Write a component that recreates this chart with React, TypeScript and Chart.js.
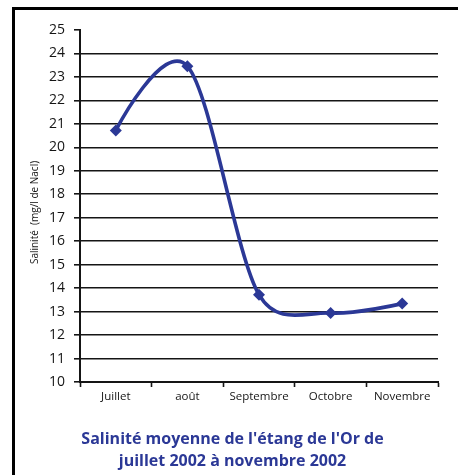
import React, { useEffect, useRef } from "react";
import { Chart, registerables } from "chart.js";

Chart.register(...registerables);

const months = ["Juillet", "août", "Septembre", "Octobre", "Novembre"];
const salinity = [20.72, 23.46, 13.72, 12.94, 13.34];
const yMin = 10;
const yMax = 25;
const yStep = 1;
const yTitle = "Salinité  (mg/l de Nacl)     ";
const chartTitle = ["Salinité moyenne de l'étang de l'Or de", "juillet 2002 à novembre 2002"];

const BLUE = "#2b3896";
const INK = "#151515";
const FONT = "'Open Sans', 'DejaVu Sans', sans-serif";

// Spreadsheet-style smoothing: Catmull-Rom tangents (1/6), limited by half segment length,
// control point collapsed onto the end points.
const smoothPlugin = {
  id: "smoothSpline",
  beforeDatasetDraw(chart: any, args: any) {
    const meta = args.meta;
    const line = meta.dataset;
    if (!line) return;
    line.updateControlPoints(chart.chartArea, meta.indexAxis);
    const pts = meta.data;
    const n = pts.length;
    const dist = (a: any, b: any) => Math.hypot(b.x - a.x, b.y - a.y);
    for (let i = 0; i < n - 1; i++) {
      const p1 = pts[i];
      const p2 = pts[i + 1];
      if (i === 0) {
        p1.cp2x = p1.x;
        p1.cp2y = p1.y;
      } else {
        const p0 = pts[i - 1];
        const d12 = dist(p1, p2);
        const d02 = dist(p0, p2);
        let f1 = 1 / 6;
        if (d02 > 0 && d12 / (2 * d02) < f1) f1 = d12 / (2 * d02);
        p1.cp2x = p1.x + f1 * (p2.x - p0.x);
        p1.cp2y = p1.y + f1 * (p2.y - p0.y);
      }
      if (i + 2 > n - 1) {
        p2.cp1x = p2.x;
        p2.cp1y = p2.y;
      } else {
        const p3 = pts[i + 2];
        const d12 = dist(p1, p2);
        const d13 = dist(p1, p3);
        let f2 = 1 / 6;
        if (d13 > 0 && d12 / (2 * d13) < f2) f2 = d12 / (2 * d13);
        p2.cp1x = p2.x - f2 * (p3.x - p1.x);
        p2.cp1y = p2.y - f2 * (p3.y - p1.y);
      }
    }
    line._path = undefined;
  },
};

export default function App() {
  const ref = useRef<HTMLCanvasElement | null>(null);

  useEffect(() => {
    if (!ref.current) return;
    const chart = new Chart(ref.current, {
      type: "line",
      data: {
        labels: months,
        datasets: [
          {
            data: salinity,
            borderColor: BLUE,
            backgroundColor: BLUE,
            borderWidth: 3.6,
            tension: 0.3,
            fill: false,
            pointStyle: "rectRot",
            pointRadius: 6,
            pointBorderWidth: 0,
            pointBackgroundColor: BLUE,
          },
        ],
      },
      plugins: [smoothPlugin],
      options: {
        animation: false,
        responsive: false,
        maintainAspectRatio: false,
        layout: { padding: { left: 27, right: 20, top: 30, bottom: 0 } },
        plugins: {
          legend: { display: false },
          tooltip: { enabled: false },
          title: {
            display: true,
            position: "bottom",
            text: chartTitle,
            color: BLUE,
            font: { family: FONT, size: 16, weight: "bold", lineHeight: 1.375 },
            padding: { top: 6, bottom: 3 },
          },
        },
        scales: {
          x: {
            type: "category",
            offset: true,
            afterFit: (s: any) => {
              s.height = 40;
            },
            grid: {
              offset: true,
              drawOnChartArea: false,
              drawTicks: true,
              tickLength: 5,
              tickColor: INK,
              tickWidth: 1.6,
            },
            border: { display: true, color: INK, width: 2 },
            ticks: {
              color: INK,
              font: { family: FONT, size: 11.5 },
              padding: 3,
              maxRotation: 0,
              autoSkip: false,
            },
          },
          y: {
            min: yMin,
            max: yMax,
            afterFit: (s: any) => {
              s.width = 53;
            },
            grid: {
              color: (c: any) => (c.tick && c.tick.value === yMax ? "rgba(0,0,0,0)" : INK),
              lineWidth: 1.6,
              drawTicks: true,
              tickLength: 6,
              tickColor: INK,
              tickWidth: 1.6,
            },
            border: { display: true, color: INK, width: 2 },
            ticks: {
              stepSize: yStep,
              color: INK,
              font: { family: FONT, size: 14 },
              padding: 9,
            },
            title: {
              display: true,
              text: yTitle,
              color: INK,
              font: { family: FONT, size: 10, lineHeight: 1.2 },
              padding: { top: 2, bottom: 0 },
            },
          },
        },
      },
    });
    return () => chart.destroy();
  }, []);

  return (
    <div
      style={{
        position: "absolute",
        left: 0,
        top: 0,
        width: 458,
        height: 475,
        overflow: "hidden",
        background: "#fff",
      }}
    >
      <canvas ref={ref} width={458} height={475} style={{ position: "absolute", left: 0, top: 0 }} />
      <div
        style={{
          position: "absolute",
          left: 12,
          top: 7,
          width: 600,
          height: 600,
          borderLeft: "3px solid #000",
          borderTop: "3px solid #000",
          pointerEvents: "none",
        }}
      />
    </div>
  );
}
